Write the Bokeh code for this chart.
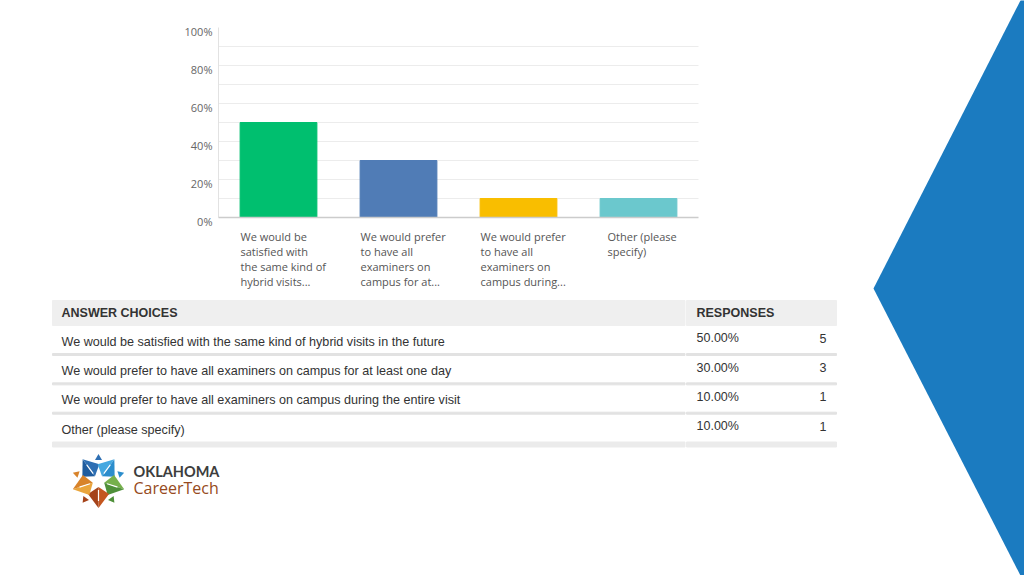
import math
from bokeh.plotting import figure
from bokeh.models import ColumnDataSource, Range1d
from bokeh.embed import file_html
from bokeh.resources import INLINE
from bokeh.core.properties import value

# ---------------- data ----------------
answers = [
    "We would be satisfied with the same kind of hybrid visits in the future",
    "We would prefer to have all examiners on campus for at least one day",
    "We would prefer to have all examiners on campus during the entire visit",
    "Other (please specify)",
]
chart_labels = [
    "We would be\nsatisfied with\nthe same kind of\nhybrid visits...",
    "We would prefer\nto have all\nexaminers on\ncampus for at...",
    "We would prefer\nto have all\nexaminers on\ncampus during...",
    "Other (please\nspecify)",
]
percent = [50.0, 30.0, 10.0, 10.0]
counts = [5, 3, 1, 1]
y_ticks = [0, 20, 40, 60, 80, 100]
y_tick_labels = ["0%", "20%", "40%", "60%", "80%", "100%"]
grid_ticks = [10, 20, 30, 40, 50, 60, 70, 80, 90]
header = ["ANSWER CHOICES", "RESPONSES"]
logo_lines = ["OKLAHOMA", "CareerTech"]

# ---------------- styles ----------------
bar_colors = ["#00BF6F", "#507CB6", "#F9BE00", "#6BC8CD"]
label_dx = [-38, -38, -38, -31]
TXT = "#333333"

n = len(answers)
pos = list(range(n))  # category slots

W, H = 1024, 575
# page figure: one pixel per unit, y pointing down
p = figure(width=W, height=H, x_range=Range1d(0, W), y_range=Range1d(H, 0),
           x_axis_location=None, y_axis_location=None, min_border=0,
           output_backend="svg", toolbar_location=None)
p.outline_line_color = None
p.xgrid.visible = False
p.ygrid.visible = False
p.background_fill_color = "white"
p.border_fill_color = "white"

# ---------------- bar chart (own scales mapped onto its area) ----------------
xr = Range1d(-0.5, n - 0.5)
yr = Range1d(0, 100)
ch = p.subplot(x_source=xr, y_source=yr,
               x_target=Range1d(218, 698), y_target=Range1d(217, 27))

ch.segment(x0=xr.start, x1=xr.end, y0=grid_ticks, y1=grid_ticks, line_color="#ececec", line_width=1)
ch.segment(x0=xr.start, x1=xr.start, y0=yr.start, y1=yr.end, line_color="#e2e2e2", line_width=1)
src = ColumnDataSource(dict(x=pos, cat=answers, pct=percent, color=bar_colors))
ch.vbar(x="x", top="pct", width=0.64, color="color", source=src)
ch.segment(x0=xr.start, x1=xr.end, y0=yr.start, y1=yr.start, line_color="#cccccc", line_width=1.5)

ch.text(x=[xr.start] * len(y_ticks), y=y_ticks, text=y_tick_labels, x_offset=-6, y_offset=4,
        text_align="right", text_baseline="middle", text_font=value("Open Sans"),
        text_font_size=value("11px"), text_color="#666666")
ch.text(x=pos, y=[yr.start] * n, text=chart_labels, x_offset=label_dx, y_offset=11,
        text_align="left", text_baseline="top", text_font=value("Open Sans"),
        text_font_size=value("11px"), text_color="#555555", text_line_height=1.02)

# ---------------- table ----------------
tl, ts, tr = 52, 684.5, 836
row_h = 29.35
qs = dict(left=[], right=[], top=[], bottom=[], color=[])


def box(l, r, t, b, c):
    qs["left"].append(l); qs["right"].append(r); qs["top"].append(t); qs["bottom"].append(b); qs["color"].append(c)


for (a, b) in [(tl, ts), (ts + 1.5, tr)]:
    box(a, b, 300, 325, "#efefef")
    for i in range(n - 1):
        y0 = 353 + i * row_h
        box(a, b, y0, y0 + 2, "#e2e2e2")
    box(a, b, 441.5, 446.5, "#ebebeb")
p.quad(left="left", right="right", top="top", bottom="bottom", color="color",
       source=ColumnDataSource(qs))


def add_text(xs, ys, texts, align="left", font="Liberation Sans", size="12.5px",
             color=TXT, style="normal"):
    p.text(x=xs, y=ys, text=texts, text_align=align, text_baseline="middle",
           text_font=value(font), text_font_size=value(size), text_color=color,
           text_font_style=style)


add_text([61, 696], [312.7, 312.7], header, style="bold")
add_text([61] * n, [341 + i * row_h for i in range(n)], answers, size="12.6px")
add_text([696] * n, [337.7 + i * row_h for i in range(n)], [f"{v:.2f}%" for v in percent])
add_text([826] * n, [337.7 + i * row_h for i in range(n)], [str(c) for c in counts], align="right")

# ---------------- blue chevron on the right ----------------
p.patch(x=[1021, 1030, 1030, 1021, 873], y=[-2, -2, 577, 577, 288], color="#1B7BC0", line_color=None)

# ---------------- logo ----------------
cx, cy = 98, 480.5


def pt(ang, u, v):
    a = math.radians(ang)
    return cx + u * math.cos(a) - v * math.sin(a), cy + u * math.sin(a) + v * math.cos(a)


lx, ly, lc = [], [], []


def poly(points, c):
    lx.append([q[0] for q in points]); ly.append([q[1] for q in points]); lc.append(c)


arrows = [(-126, "#1f5c9e", "#2e6fb3"), (-54, "#45a8e0", "#2b8dcc"), (18, "#76b04c", "#4f903a"),
          (90, "#c4561f", "#a5431a"), (162, "#eaa53c", "#d8832a")]
for ang, ca, cb in arrows:
    tip, notch = pt(ang, 27, 0), pt(ang, 6, 0)
    wa, wb = pt(ang, 13, -10.5), pt(ang, 13, 10.5)
    poly([tip, notch, wa], ca)
    poly([tip, wb, notch], cb)
    a2 = ang + 36
    poly([pt(a2, 27, 0), pt(a2, 21, -3.5), pt(a2, 21, 3.5)], cb)
p.patches(xs=lx, ys=ly, color=lc, line_color=None)
# white star-cut lines through each arrow (chevron look)
sx, sy = [], []
for ang, _, _ in arrows:
    sx.append([pt(ang, 9, 0)[0], pt(ang, 20, 0)[0]])
    sy.append([pt(ang, 9, 0)[1], pt(ang, 20, 0)[1]])
p.multi_line(xs=sx, ys=sy, line_color="white", line_width=1.2)

add_text([133], [470.7], [logo_lines[0]], font="Lato", style="bold", size="14.5px", color="#3d3d3d")
add_text([133], [487.5], [logo_lines[1]], font="Open Sans", size="16px", color="#964a20")

open("out.html", "w").write(file_html(p, INLINE))
